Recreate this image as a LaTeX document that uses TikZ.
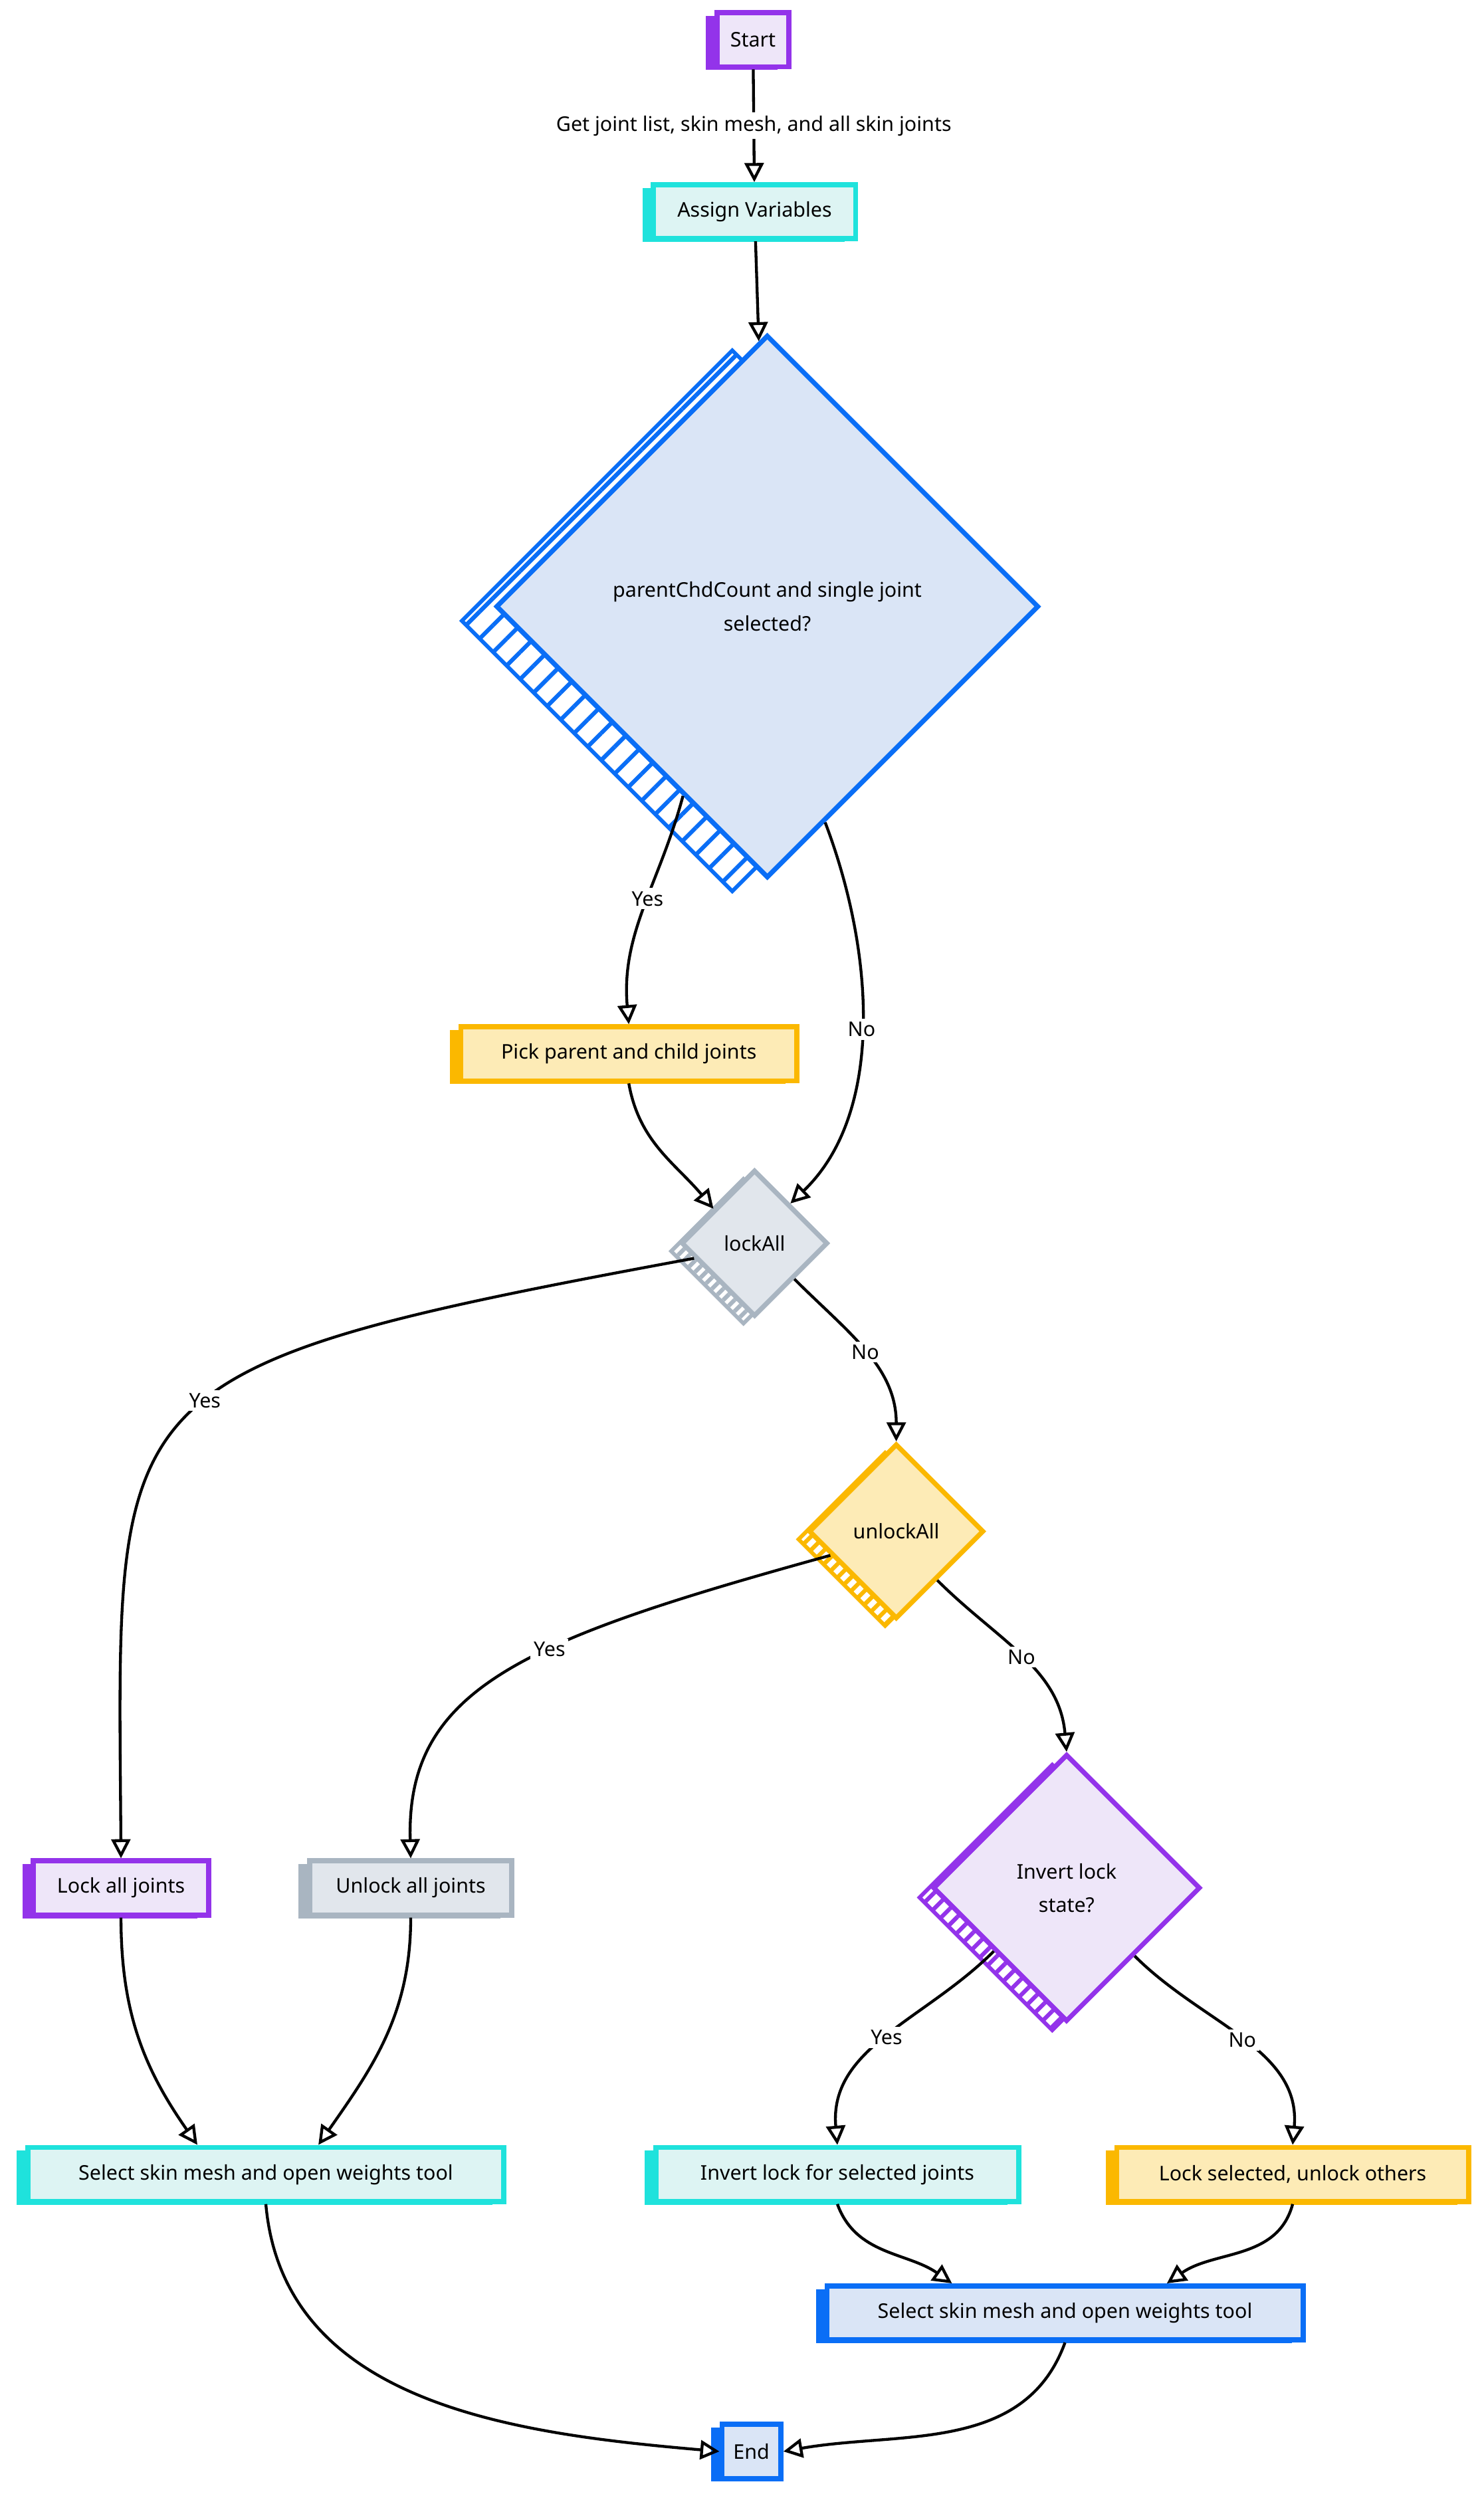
\documentclass[tikz,border=0pt]{standalone}
\usepackage{fontspec}
\setmainfont{Noto Sans}
\usetikzlibrary{shapes.geometric, arrows.meta, shadows, patterns.meta, positioning}

\definecolor{purpleline}{HTML}{9333EA}
\definecolor{purplefill}{HTML}{EEE6F9}
\definecolor{cyanline}{HTML}{1FE2DC}
\definecolor{cyanfill}{HTML}{DDF4F3}
\definecolor{blueline}{HTML}{0A6EF6}
\definecolor{bluefill}{HTML}{DAE5F6}
\definecolor{yellowline}{HTML}{FBB800}
\definecolor{yellowfill}{HTML}{FDEBB6}
\definecolor{grayline}{HTML}{A9B5C1}
\definecolor{grayfill}{HTML}{E1E6EC}

\tikzset{
  procbox/.style={draw=#1line, fill=#1fill, line width=3.2pt, minimum height=34pt,
    general shadow={fill=#1line, shadow xshift=-7pt, shadow yshift=-2pt}},
  decision/.style={diamond, aspect=1, inner sep=0pt, draw=#1line, fill=#1fill,
    line width=3pt, align=center},
  hatch/.style n args={4}{general shadow={draw=#1line, line width=2.4pt,
    pattern={Lines[angle=45, distance=#4, line width=2.6pt]}, pattern color=#1line,
    shadow xshift=#2, shadow yshift=#3}},
  flow/.style={-{Triangle[open, length=12pt, width=12pt]}, line width=1.8pt},
  lbl/.style={fill=white, inner sep=2pt},
}

\begin{document}
\begin{tikzpicture}[x=1pt, y=1pt, every node/.style={font=\fontsize{12.7}{21}\selectfont}]
  \useasboundingbox (0,0) rectangle (932,-1568);

  % boxes
  \node[procbox=purple, minimum width=45pt] (start) at (473,-25) {Start};
  \node[procbox=cyan, minimum width=127pt] (assign) at (474,-133) {Assign Variables};
  \node[procbox=yellow, minimum width=211pt] (pick) at (395,-662) {Pick parent and child joints};
  \node[procbox=purple, minimum width=110pt] (lockJ) at (76,-1186) {Lock all joints};
  \node[procbox=gray, minimum width=127pt] (unlockJ) at (258,-1186) {Unlock all joints};
  \node[procbox=cyan, minimum width=299pt] (selL) at (167,-1366) {Select skin mesh and open weights tool};
  \node[procbox=cyan, minimum width=228pt] (invertSel) at (526,-1366) {Invert lock for selected joints};
  \node[procbox=yellow, minimum width=221pt] (lockSel) at (812,-1366) {Lock selected, unlock others};
  \node[procbox=blue, minimum width=299pt] (selR) at (669,-1453) {Select skin mesh and open weights tool};
  \node[procbox=blue, minimum width=37pt] (end) at (472,-1540) {End};

  % decisions
  \node[decision=blue, hatch={blue}{-22pt}{-9pt}{12pt}, minimum size=341pt] (dec1) at (482,-381)
    {parentChdCount and single joint\\selected?};
  \node[decision=gray, hatch={gray}{-7pt}{-5pt}{5pt}, minimum size=92pt] (lockAll) at (474,-781) {lockAll};
  \node[decision=yellow, hatch={yellow}{-7pt}{-5pt}{6pt}, minimum size=110pt] (unlockAll) at (563,-962) {unlockAll};
  \node[decision=purple, hatch={purple}{-9pt}{-6pt}{7pt}, minimum size=168pt] (invert) at (670,-1186)
    {Invert lock\\state?};

  % connectors
  \draw[flow] (start) -- node[lbl] {Get joint list, skin mesh, and all skin joints} (assign);
  \draw[flow] (assign) -- (dec1);
  \draw[flow] (dec1.-114) to[out=-105, in=95] node[lbl, pos=0.45] {Yes} (pick.north);
  \draw[flow] (dec1.-75) .. controls (550,-600) and (555,-700) .. node[lbl] {No} (lockAll.48);
  \draw[flow] (pick.south) to[out=-80, in=130] (lockAll.140);
  \draw[flow] (lockAll.-166) .. controls (60,-860) and (74,-870) .. node[lbl, pos=0.45] {Yes} (lockJ.north);
  \draw[flow] (lockAll.-42) to[out=-45, in=90] node[lbl] {No} (unlockAll.north);
  \draw[flow] (unlockAll.-160) .. controls (330,-1030) and (255,-1060) .. node[lbl, pos=0.4] {Yes} (unlockJ.north);
  \draw[flow] (unlockAll.-50) to[out=-45, in=95] node[lbl] {No} (invert.north);
  \draw[flow] (invert.-139) to[out=-135, in=95] node[lbl] {Yes} (invertSel.north);
  \draw[flow] (invert.-45) to[out=-45, in=85] node[lbl] {No} (lockSel.north);
  \draw[flow] (lockJ.south) to[out=-90, in=125] ([xshift=-43pt]selL.north);
  \draw[flow] (unlockJ.south) to[out=-90, in=55] ([xshift=33pt]selL.north);
  \draw[flow] (invertSel.south) to[out=-70, in=145] ([xshift=-71pt]selR.north);
  \draw[flow] (lockSel.south) to[out=-105, in=35] ([xshift=64pt]selR.north);
  \draw[flow] (selL.south) to[out=-85, in=175] (end.west);
  \draw[flow] (selR.south) to[out=-110, in=10] (end.east);
\end{tikzpicture}
\end{document}
